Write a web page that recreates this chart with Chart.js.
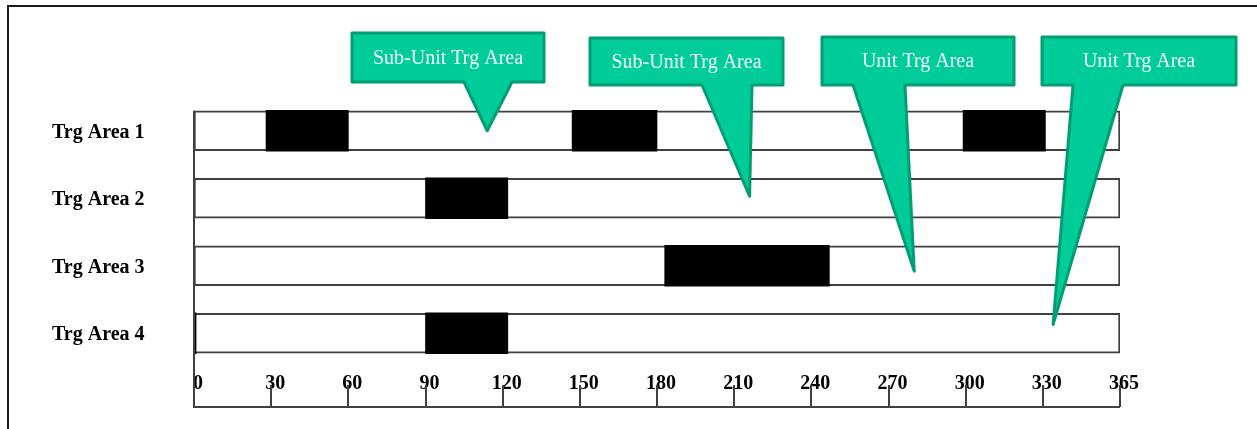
<!DOCTYPE html>
<html>
<head>
<meta charset="utf-8">
<title>Training Area Schedule</title>
<script src="https://cdn.jsdelivr.net/npm/chart.js@4.4.1/dist/chart.umd.min.js"></script>
<style>
    html, body { margin: 0; padding: 0; background: #fff; }
    .chart-wrap { position: relative; width: 1257px; height: 429px; }
</style>
</head>
<body>
<div class="chart-wrap">
    <canvas id="trgAreaChart"></canvas>
</div>
<script>
// Rows and axis
const areas = ['Trg Area 1', 'Trg Area 2', 'Trg Area 3', 'Trg Area 4'];
const tickLabels = ['0', '30', '60', '90', '120', '150', '180', '210', '240', '270', '300', '330', '365'];
const yearSpan = [0, 360]; // last tick is labelled 365 but sits on the even 30-step grid

// Black blocks (start, end) per row - up to three per row
const blocksFirst = [[28, 60], [90, 122], [183, 247], [90, 122]];
const blocksSecond = [[147, 180], null, null, [0, 0.8]];
const blocksThird = [[299, 331], null, null, null];

// Callouts
const calloutText = ['Sub-Unit Trg Area', 'Sub-Unit Trg Area', 'Unit Trg Area', 'Unit Trg Area'];
const calloutTipDay = [114, 216, 280, 334];
const calloutTipRow = [0, 0.97, 2.08, 2.87];

class TrgAreaChart {
    constructor() {
        this.calloutBoxes = [
            { x: 352, y: 33, w: 192, h: 49, b1: 464, b2: 512 },
            { x: 590, y: 38, w: 193, h: 47, b1: 702, b2: 752 },
            { x: 822, y: 37, w: 192, h: 48, b1: 853, b2: 905 },
            { x: 1042, y: 37, w: 194, h: 48, b1: 1073, b2: 1123 }
        ];
        this.initializeChart();
    }

    blockDataset(data) {
        return {
            data: data,
            backgroundColor: '#000000',
            borderWidth: 0,
            barThickness: 41,
            grouped: false,
            order: 0
        };
    }

    initializeChart() {
        const self = this;
        const ctx = document.getElementById('trgAreaChart').getContext('2d');

        const overlay = {
            id: 'overlay',
            afterDatasetsDraw(chart) {
                const c = chart.ctx;
                const xs = chart.scales.x;
                const ys = chart.scales.y;
                const area = chart.chartArea;
                const rowTop = ys.getPixelForValue(0) - 20;

                c.save();
                c.strokeStyle = '#404040';
                c.lineWidth = 2;
                // left rail and bottom axis
                c.beginPath();
                c.moveTo(area.left, rowTop);
                c.lineTo(area.left, xs.bottom);
                c.lineTo(xs.getPixelForValue(yearSpan[1]), xs.bottom);
                c.stroke();
                // tick marks
                xs.ticks.forEach((t, i) => {
                    if (i === 0) return;
                    const px = Math.round(xs.getPixelForValue(t.value));
                    c.beginPath();
                    c.moveTo(px, xs.bottom - 22);
                    c.lineTo(px, xs.bottom);
                    c.stroke();
                });

                // outer frame (top and left only)
                c.strokeStyle = '#1a1a1a';
                c.lineWidth = 2;
                c.beginPath();
                c.moveTo(chart.width, 6);
                c.lineTo(8, 6);
                c.lineTo(8, chart.height);
                c.stroke();

                // callouts
                calloutText.forEach((text, i) => {
                    const b = self.calloutBoxes[i];
                    const tipX = xs.getPixelForValue(calloutTipDay[i]);
                    const tipY = ys.getPixelForValue(calloutTipRow[i]);
                    c.beginPath();
                    c.moveTo(b.x, b.y);
                    c.lineTo(b.x + b.w, b.y);
                    c.lineTo(b.x + b.w, b.y + b.h);
                    c.lineTo(b.b2, b.y + b.h);
                    c.lineTo(tipX, tipY);
                    c.lineTo(b.b1, b.y + b.h);
                    c.lineTo(b.x, b.y + b.h);
                    c.closePath();
                    c.fillStyle = '#00cc99';
                    c.fill();
                    c.lineJoin = 'round';
                    c.lineWidth = 3;
                    c.strokeStyle = '#009e72';
                    c.stroke();

                    c.fillStyle = '#f4fffa';
                    c.font = '20px "Liberation Serif", serif';
                    c.textAlign = 'center';
                    c.textBaseline = 'middle';
                    c.fillText(text, b.x + b.w / 2, b.y + b.h / 2 + 1);
                });
                c.restore();
            }
        };

        window.trgAreaChart = new Chart(ctx, {
            type: 'bar',
            data: {
                labels: areas,
                datasets: [
                    this.blockDataset(blocksFirst),
                    this.blockDataset(blocksSecond),
                    this.blockDataset(blocksThird),
                    {
                        data: areas.map(() => yearSpan),
                        backgroundColor: '#ffffff',
                        borderColor: '#404040',
                        borderWidth: 2,
                        borderSkipped: false,
                        barThickness: 40,
                        grouped: false,
                        order: 1
                    }
                ]
            },
            options: {
                indexAxis: 'y',
                responsive: true,
                maintainAspectRatio: false,
                animation: false,
                layout: {
                    padding: { left: 52, right: 137, top: 97, bottom: 22 }
                },
                plugins: {
                    legend: { display: false },
                    tooltip: { enabled: false }
                },
                scales: {
                    x: {
                        type: 'linear',
                        min: yearSpan[0],
                        max: yearSpan[1],
                        grid: { display: false, drawTicks: false },
                        border: { display: false },
                        afterFit: (scale) => { scale.height = 40; },
                        ticks: {
                            stepSize: 30,
                            padding: 5,
                            labelOffset: 4,
                            maxRotation: 0,
                            autoSkip: false,
                            color: '#000',
                            font: { family: '"Liberation Serif", serif', size: 20, weight: 'bold' },
                            callback: (v, i) => tickLabels[i]
                        }
                    },
                    y: {
                        grid: { display: false, drawTicks: false },
                        border: { display: false },
                        afterFit: (scale) => { scale.width = 142; },
                        ticks: {
                            crossAlign: 'far',
                            labelOffset: 2,
                            color: '#000',
                            font: { family: '"Liberation Serif", serif', size: 20, weight: 'bold' }
                        }
                    }
                }
            },
            plugins: [overlay]
        });
    }
}

document.addEventListener('DOMContentLoaded', () => {
    new TrgAreaChart();
});
</script>
</body>
</html>
